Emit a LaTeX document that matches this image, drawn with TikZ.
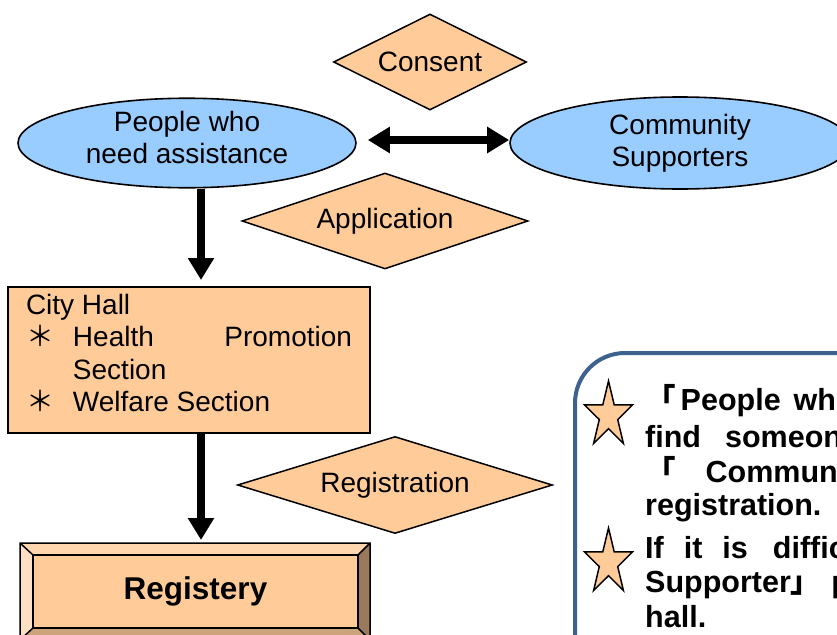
\documentclass[tikz,border=0pt]{standalone}
\usepackage{fontspec}
\setmainfont{Liberation Sans}
\newfontfamily\cjk{Noto Sans CJK JP}
\usetikzlibrary{positioning, arrows.meta, shapes.geometric}
\definecolor{peach}{RGB}{255,204,153}
\definecolor{skyblue}{RGB}{153,204,255}
\definecolor{noteframe}{RGB}{62,98,144}
\definecolor{beveltop}{RGB}{255,214,173}
\definecolor{bevelleft}{RGB}{255,224,194}
\definecolor{bevelright}{RGB}{153,122,92}
\definecolor{bevelbottom}{RGB}{204,163,122}
\tikzset{
  party/.style={
    ellipse, draw, line width=1.6pt, fill=skyblue, inner sep=0pt,
    align=center, font=\fontsize{28}{32}\selectfont
  },
  decision/.style={
    diamond, aspect=3, draw, line width=1.5pt, fill=peach,
    inner sep=0pt, font=\fontsize{28}{32}\selectfont
  },
  office/.style={
    rectangle, draw, line width=1.6pt, fill=peach, outer sep=0pt,
    inner xsep=18pt, minimum width=362pt, minimum height=146pt,
    align=left, font=\fontsize{28}{32.3}\selectfont
  },
  bevelbox/.style={
    rectangle, draw, line width=1.5pt, fill=peach, outer sep=0pt,
    minimum width=325pt, minimum height=73pt, inner sep=0pt,
    font=\fontsize{31.5}{36}\selectfont\bfseries
  },
  flow/.style={line width=8pt, -{Triangle[length=22pt, width=25pt]}},
  notebox/.style={
    draw=noteframe, line width=4pt, rounded corners=50pt, fill=white,
    outer sep=0pt, inner sep=0pt
  },
  notetext/.style={
    anchor=base west, inner sep=0pt,
    font=\fontsize{30.5}{35}\selectfont\bfseries
  },
  starmark/.style={draw, line width=1.5pt, fill=peach, line join=miter},
}
\newcommand{\bullitem}{\makebox[47pt][l]{{\cjk ＊}}}
\begin{document}
\begin{tikzpicture}[x=1pt, y=-1pt]
  \useasboundingbox (0,0) rectangle (837,634);
  \clip (0,0) rectangle (837,634);

  % who agrees with whom
  \node[decision, minimum width=193pt, minimum height=96pt] (consent) at (430,62) {Consent};
  \node[party, minimum width=338pt, minimum height=88pt, text depth=11pt] (people) at (187,143) {People who\\need assistance};
  \node[party, minimum width=340pt, minimum height=92pt] (supporters) at (680,143) {Community\\Supporters};
  \draw[flow, {Triangle[length=22pt, width=25pt]}-{Triangle[length=22pt, width=25pt]}, shorten <=11pt]
    ([yshift=3pt]people.east) -- ([yshift=3pt]supporters.west);

  % application and registration
  \node[decision, minimum width=286pt, minimum height=96pt] (application) at (385,221) {Application};
  \node[office, text depth=14pt] (cityhall) at (189,360) {City Hall\\
    \makebox[326pt][l]{\bullitem Health\hfill Promotion}\\
    \hspace*{47pt}Section\\
    \bullitem Welfare Section};
  \node[decision, minimum width=315pt, minimum height=97pt] (registration) at (395,485) {Registration};

  % registery with bevelled frame
  \node[bevelbox] (registery) at (195.5,591.5) {Registery};
  \fill[beveltop] (registery.north west) -- ++(-13,-12) -- ([shift={(12,-12)}]registery.north east) -- (registery.north east) -- cycle;
  \fill[bevelleft] (registery.north west) -- ++(-13,-12) -- ([shift={(-13,12)}]registery.south west) -- (registery.south west) -- cycle;
  \fill[bevelright] (registery.north east) -- ++(12,-12) -- ([shift={(12,12)}]registery.south east) -- (registery.south east) -- cycle;
  \fill[bevelbottom] (registery.south west) -- ++(-13,12) -- ([shift={(12,12)}]registery.south east) -- (registery.south east) -- cycle;
  \draw[line width=1.5pt] ([shift={(-13,-12)}]registery.north west) rectangle ([shift={(12,12)}]registery.south east)
    (registery.north west) -- ++(-13,-12) (registery.north east) -- ++(12,-12)
    (registery.south west) -- ++(-13,12) (registery.south east) -- ++(12,12);
  \draw[line width=1.5pt] (registery.north west) rectangle (registery.south east);

  \draw[flow, shorten >=7pt] ([xshift=14pt]people.south) -- ([xshift=12pt]cityhall.north);
  \draw[flow, shorten >=15pt] ([xshift=12pt]cityhall.south) -- ([xshift=5.5pt]registery.north);

  % notes
  \node[notebox, anchor=north west, minimum width=400pt, minimum height=400pt] (notes) at (575,353) {};
  \coordinate (firststar) at (608.5,415.5);
  \coordinate (secondstar) at (608.5,562.5);
  \foreach \s in {firststar, secondstar}
    \draw[starmark] (\s) +(-90:25.3 and 34.5)
      \foreach \k in {0,...,4} { -- +(-54+72*\k:9.7 and 13.2) -- +(-18+72*\k:25.3 and 34.5) } -- cycle;
  \node[notetext] (note1) at (645,410) {{\cjk 「}\hspace{5pt}People\hspace{13pt}who};
  \node[notetext] (note2) at (645,447) {find\hspace{24pt}someone};
  \node[notetext] (note3) at (645,482) {{\cjk 「}\hspace{30pt}Community};
  \node[notetext] (note4) at (645,515) {registration.};
  \node[notetext] (note5) at (645,558) {If\hspace{20pt}it\hspace{20pt}is\hspace{25pt}difficult};
  \node[notetext] (note6) at (645,592) {Supporter{\cjk 」}\hspace{10pt}please};
  \node[notetext] (note7) at (645,627) {hall.};
\end{tikzpicture}
\end{document}
